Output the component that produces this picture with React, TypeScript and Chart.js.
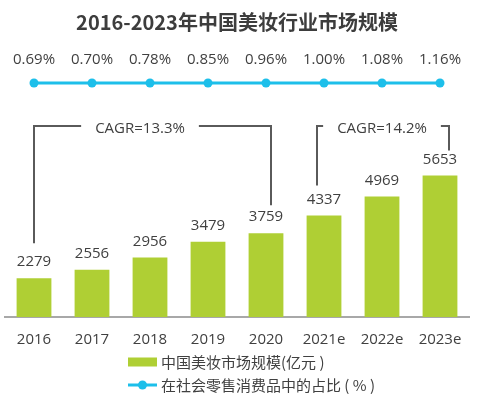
import React, { useEffect, useRef } from 'react';
import { Chart, registerables } from 'chart.js';

Chart.register(...registerables);

const TITLE = '2016-2023年中国美妆行业市场规模';
const years = ['2016', '2017', '2018', '2019', '2020', '2021e', '2022e', '2023e'];
const marketSize = [2279, 2556, 2956, 3479, 3759, 4337, 4969, 5653];
const retailShare = [0.69, 0.7, 0.78, 0.85, 0.96, 1.0, 1.08, 1.16];
const shareRow = ['占比'];
const barLegend = '中国美妆市场规模(亿元 )';
const lineLegend = '在社会零售消费品中的占比 ( % )';
const cagrLabels = ['CAGR=13.3%', 'CAGR=14.2%'];
const cagrSpans = [
  [0, 4],
  [5, 7],
];

const GREEN = '#AFCF34';
const CYAN = '#1DBFEA';
const TEXT = '#404040';
const BRACKET = '#5a5a5a';
const FONT = '"Open Sans", "Noto Sans CJK SC", sans-serif';
const CJK = '"Noto Sans CJK SC", "Open Sans", sans-serif';

const overlay = {
  id: 'overlay',
  afterDatasetsDraw(chart: any) {
    const ctx = chart.ctx;
    const xs = chart.scales.x;
    const ys = chart.scales.y;
    ctx.save();
    ctx.font = `15px ${FONT}`;
    ctx.fillStyle = TEXT;
    ctx.textAlign = 'center';
    ctx.textBaseline = 'middle';
    chart.getDatasetMeta(0).data.forEach((el: any, i: number) => {
      ctx.fillText(String(marketSize[i]), el.x, el.y - 16);
    });
    chart.getDatasetMeta(1).data.forEach((el: any, i: number) => {
      ctx.fillText(retailShare[i].toFixed(2) + '%', el.x, el.y - 23);
    });

    // CAGR brackets
    const topY = chart.chartArea.top + 43;
    const specs = [
      { dx0: 0, gap0: 35, dx1: 5, gap1: 28, tOff: -10 },
      { dx0: -7, gap0: 30, dx1: 9, gap1: 25, tOff: 0 },
    ];
    ctx.strokeStyle = BRACKET;
    ctx.lineWidth = 2;
    ctx.lineCap = 'butt';
    cagrSpans.forEach((span, k) => {
      const s = specs[k];
      const a = span[0];
      const b = span[1];
      const x0 = xs.getPixelForValue(a) + s.dx0;
      const x1 = xs.getPixelForValue(b) + s.dx1;
      const y0 = ys.getPixelForValue(marketSize[a]) - s.gap0;
      const y1 = ys.getPixelForValue(marketSize[b]) - s.gap1;
      const tx = (k === 0 ? xs.getPixelForValue(2) : xs.getPixelForValue(6)) + s.tOff;
      const w = ctx.measureText(cagrLabels[k]).width;
      ctx.beginPath();
      ctx.moveTo(x0, y0);
      ctx.lineTo(x0, topY);
      ctx.lineTo(tx - w / 2 - 14, topY);
      ctx.moveTo(tx + w / 2 + 14, topY);
      ctx.lineTo(x1, topY);
      ctx.lineTo(x1, y1);
      ctx.stroke();
      ctx.fillText(cagrLabels[k], tx, topY + 3);
    });
    ctx.restore();
  },
  afterDraw(chart: any) {
    const ctx = chart.ctx;
    ctx.save();
    const lx = 128;
    const r1 = 362;
    const r2 = 385;
    ctx.fillStyle = GREEN;
    ctx.fillRect(lx, r1 - 4.5, 29, 9);
    ctx.strokeStyle = CYAN;
    ctx.lineWidth = 3;
    ctx.beginPath();
    ctx.moveTo(lx, r2);
    ctx.lineTo(lx + 29, r2);
    ctx.stroke();
    ctx.fillStyle = CYAN;
    ctx.beginPath();
    ctx.arc(lx + 14.5, r2, 4.5, 0, Math.PI * 2);
    ctx.fill();
    ctx.fillStyle = TEXT;
    ctx.font = `15px ${CJK}`;
    ctx.textAlign = 'left';
    ctx.textBaseline = 'middle';
    ctx.fillText(barLegend, lx + 33, r1);
    ctx.fillText(lineLegend, lx + 33, r2);
    ctx.restore();
  },
};

export default function App() {
  const ref = useRef<HTMLCanvasElement | null>(null);
  useEffect(() => {
    if (!ref.current) return;
    const chart = new Chart(ref.current, {
      type: 'bar',
      data: {
        labels: years,
        datasets: [
          {
            type: 'bar',
            label: barLegend,
            data: marketSize,
            backgroundColor: GREEN,
            yAxisID: 'y',
            categoryPercentage: 1,
            barPercentage: 0.6,
          },
          {
            type: 'line',
            label: lineLegend,
            data: years.map((yr) => ({ x: yr, y: shareRow[0] })),
            yAxisID: 'y2',
            borderColor: CYAN,
            backgroundColor: CYAN,
            borderWidth: 3,
            pointRadius: 4.5,
            pointBorderWidth: 0,
            pointBackgroundColor: CYAN,
            clip: false,
          } as any,
        ],
      },
      options: {
        responsive: false,
        animation: false,
        layout: { padding: { left: 5, right: 27, top: 0, bottom: 33 } },
        plugins: {
          legend: { display: false },
          tooltip: { enabled: false },
          title: {
            display: true,
            text: TITLE,
            fullSize: false,
            color: '#3d3d3d',
            font: { size: 20, weight: 'bold', family: CJK },
            padding: { top: 10, bottom: 49 },
          },
        },
        scales: {
          x: {
            type: 'category',
            grid: { display: false, drawTicks: false },
            border: { display: true, color: '#A8A8A8', width: 2 },
            ticks: { color: TEXT, font: { size: 15, family: FONT }, padding: 14 },
          },
          y: { type: 'linear', display: false, min: 1000, max: 8700 },
          y2: { type: 'category', labels: shareRow, offset: false, display: false },
        },
      } as any,
      plugins: [overlay],
    });
    return () => chart.destroy();
  }, []);
  return (
    <div style={{ position: 'absolute', left: 0, top: 0, width: 496, height: 396, background: '#fff' }}>
      <canvas ref={ref} width={496} height={396} style={{ display: 'block' }} />
    </div>
  );
}
